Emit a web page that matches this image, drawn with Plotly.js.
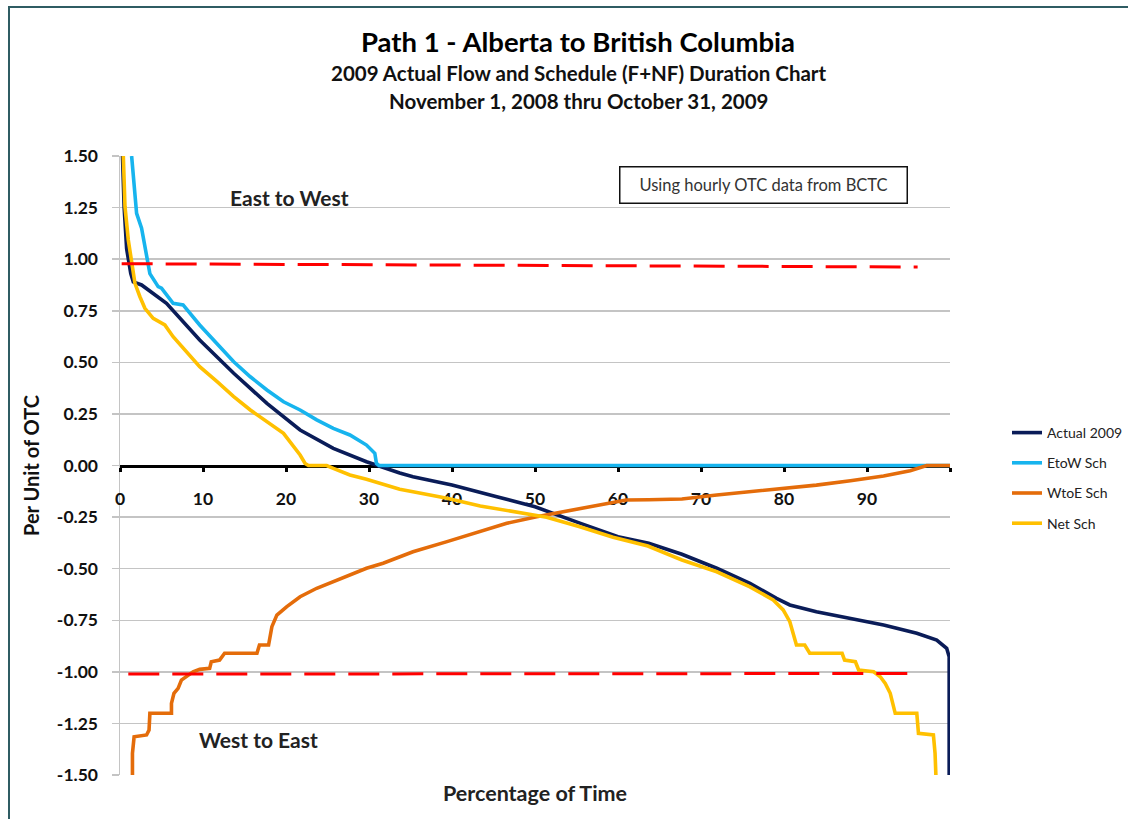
<!DOCTYPE html>
<html>
<head>
<meta charset="utf-8">
<script src="https://cdn.plot.ly/plotly-3.0.1.min.js"></script>
<style>
  html, body { margin: 0; padding: 0; background: #ffffff; }
  #wrap { position: relative; width: 1128px; height: 819px; overflow: hidden; }
  #frame { position: absolute; left: 8px; top: 6px; width: 1200px; height: 900px;
           border-left: 2px solid #2f5c63; border-top: 2px solid #2f5c63; pointer-events: none; z-index: 5; }
  #chart { position: absolute; left: 0; top: 0; width: 1128px; height: 819px; }
</style>
</head>
<body>
<div id="wrap">
  <div id="chart"></div>
  <div id="frame"></div>
</div>
<script>
// ---- Data (percentage of time, per unit of OTC) ----
const actualX = [0.3, 0.5, 0.8, 1.0, 1.3, 1.6, 2.6, 5.6, 9.6, 13.7, 17.7, 21.7, 25.7, 29.7, 31.0,
  33.7, 35.3, 40.0, 45.4, 50.0, 55.4, 60.0, 63.7, 67.7, 71.9, 75.9, 79.1, 80.7, 83.9, 88.0, 92.0,
  96.0, 98.4, 99.6, 99.9, 99.9];
const actualY = [1.5, 1.25, 1.05, 1.0, 0.93, 0.89, 0.875, 0.786, 0.608, 0.447, 0.301, 0.172, 0.083, 0.018, 0.0,
  -0.036, -0.054, -0.095, -0.151, -0.2, -0.279, -0.345, -0.377, -0.43, -0.498, -0.571, -0.644, -0.676, -0.709, -0.741, -0.773,
  -0.813, -0.846, -0.886, -0.927, -1.5];

const etowX = [1.4, 1.8, 2.0, 2.6, 3.0, 3.4, 3.6, 4.6, 5.0, 6.4, 7.6, 9.6, 11.7, 13.7, 15.7, 17.7,
  19.7, 21.7, 23.7, 25.7, 27.7, 29.7, 30.7, 30.9, 31.2, 100];
const etowY = [1.5, 1.335, 1.222, 1.15, 1.06, 0.98, 0.93, 0.867, 0.859, 0.786, 0.778, 0.681, 0.592, 0.503, 0.43, 0.366,
  0.309, 0.269, 0.221, 0.18, 0.148, 0.099, 0.059, 0.01, 0.0, 0.0];

const wtoeX = [1.5, 1.5, 1.7, 3.2, 3.5, 3.6, 6.2, 6.2, 6.5, 7.0, 7.4, 8.0, 8.8, 9.6, 10.8, 11.0, 12.0, 12.6,
  16.5, 16.8, 17.9, 18.3, 18.9, 20.1, 21.7, 23.7, 25.7, 27.7, 29.7, 31.7, 33.7, 35.3, 39.4, 43.4, 46.6,
  50.2, 53.4, 57.4, 61.0, 63.7, 67.7, 71.9, 75.9, 79.9, 83.9, 88.0, 92.0, 95.2, 96.8, 97.2, 100];
const wtoeY = [-1.5, -1.395, -1.315, -1.306, -1.282, -1.201, -1.201, -1.153, -1.104, -1.08, -1.04, -1.024, -1.0, -0.988, -0.983, -0.951, -0.943, -0.91,
  -0.91, -0.87, -0.87, -0.781, -0.725, -0.684, -0.636, -0.595, -0.563, -0.531, -0.498, -0.474, -0.442, -0.418, -0.369, -0.321, -0.28,
  -0.248, -0.224, -0.191, -0.167, -0.166, -0.162, -0.143, -0.127, -0.111, -0.095, -0.074, -0.051, -0.025, -0.006, 0.0, 0.0];

const netX = [0.4, 0.6, 1.0, 1.4, 1.8, 2.4, 3.0, 4.0, 4.8, 5.4, 6.4, 7.6, 9.6, 11.7, 13.7, 15.7, 17.7,
  19.7, 21.7, 22.3, 22.7, 24.9, 25.7, 27.7, 29.7, 31.5, 33.7, 35.3, 39.4, 43.4, 47.4, 51.4, 55.4, 59.4,
  63.6, 67.7, 71.9, 75.9, 78.7, 79.9, 80.7, 81.1, 81.5, 82.5, 83.1, 87.0, 87.3, 88.6, 89.0, 90.8, 91.6,
  92.2, 92.8, 93.4, 96.0, 96.2, 98.0, 98.2, 98.3];
const netY = [1.5, 1.255, 1.093, 0.98, 0.883, 0.818, 0.762, 0.713, 0.692, 0.681, 0.624, 0.568, 0.479, 0.406, 0.334, 0.269, 0.212,
  0.156, 0.051, 0.01, 0.0, 0.0, -0.014, -0.046, -0.067, -0.09, -0.115, -0.127, -0.159, -0.196, -0.224, -0.251, -0.297, -0.348,
  -0.39, -0.458, -0.515, -0.588, -0.652, -0.7, -0.757, -0.813, -0.87, -0.87, -0.91, -0.91, -0.943, -0.951, -0.991, -1.0, -1.024,
  -1.056, -1.104, -1.201, -1.201, -1.298, -1.306, -1.395, -1.5];

const limitEtoWX = [0.2, 50, 96.1];
const limitEtoWY = [0.978, 0.970, 0.962];
const limitWtoEX = [1.0, 50, 96.4];
const limitWtoEY = [-1.011, -1.010, -1.008];

const xTickVals = [0, 10, 20, 30, 40, 50, 60, 70, 80, 90, 100];
const xTickText = ['0', '10', '20', '30', '40', '50', '60', '70', '80', '90', ''];
const yTickVals = [-1.5, -1.25, -1.0, -0.75, -0.5, -0.25, 0, 0.25, 0.5, 0.75, 1.0, 1.25, 1.5];
const yTickText = ['-1.50', '-1.25', '-1.00', '-0.75', '-0.50', '-0.25', '0.00', '0.25', '0.50', '0.75', '1.00', '1.25', '1.50'];

const seriesNames = ['Actual 2009', 'EtoW Sch', 'WtoE Sch', 'Net Sch'];

// ---- Chart ----
const FONT = 'Lato, "Open Sans", "DejaVu Sans", sans-serif';
const LW = 3.6;

const traces = [
  {x: actualX, y: actualY, name: seriesNames[0], mode: 'lines', line: {color: '#0a1c58', width: LW}, legendgroup: 'a'},
  {x: etowX, y: etowY, name: seriesNames[1], mode: 'lines', line: {color: '#17b4ee', width: LW}, legendgroup: 'b'},
  {x: wtoeX, y: wtoeY, name: seriesNames[2], mode: 'lines', line: {color: '#e46c0a', width: LW}, legendgroup: 'c'},
  {x: netX, y: netY, name: seriesNames[3], mode: 'lines', line: {color: '#ffc000', width: LW}, legendgroup: 'd'},
  {x: limitEtoWX, y: limitEtoWY, mode: 'lines', showlegend: false, hoverinfo: 'skip',
   line: {color: '#ff0000', width: 3, dash: '31px,13px'}},
  {x: limitWtoEX, y: limitWtoEY, mode: 'lines', showlegend: false, hoverinfo: 'skip',
   line: {color: '#ff0000', width: 3, dash: '31px,13px'}}
];

const layout = {
  width: 1128, height: 819,
  paper_bgcolor: 'rgba(0,0,0,0)', plot_bgcolor: '#ffffff',
  margin: {l: 120, r: 178, t: 156, b: 44, autoexpand: false},
  font: {family: FONT, color: '#000000'},
  showlegend: true,
  title: {
    text: '<b>Path 1 - Alberta to British Columbia</b>',
    font: {family: FONT, size: 27.5, color: '#000000'},
    x: 0.5124, xanchor: 'center', xref: 'container',
    y: 1 - 42 / 819, yanchor: 'middle', yref: 'container'
  },
  xaxis: {
    range: [0, 100], anchor: 'free', position: 0.5,
    tickvals: xTickVals, ticktext: xTickText,
    showgrid: false, zeroline: false,
    showline: true, linecolor: '#000000', linewidth: 3,
    ticks: 'outside', ticklen: 4, tickwidth: 3, tickcolor: '#000000',
    ticklabelstandoff: 12,
    tickfont: {family: FONT, size: 17.5, color: '#111111', weight: 'bold'},
    layer: 'below traces', fixedrange: true
  },
  yaxis: {
    range: [-1.5, 1.5],
    tickvals: yTickVals, ticktext: yTickText,
    showgrid: true, gridcolor: '#c4c4c4', gridwidth: 1.5,
    zeroline: false,
    showline: true, linecolor: '#c4c4c4', linewidth: 1.5,
    ticks: 'outside', ticklen: 7, tickwidth: 1.5, tickcolor: '#c4c4c4',
    ticklabelstandoff: 10,
    tickfont: {family: FONT, size: 17.5, color: '#111111', weight: 'bold'},
    title: {text: '<b>Per Unit of OTC</b>', font: {family: FONT, size: 20, color: '#111111'}, standoff: 12},
    layer: 'below traces', fixedrange: true
  },
  legend: {
    x: (1007 - 120) / 830, xanchor: 'left',
    y: (775 - 417) / 619, yanchor: 'top',
    font: {family: FONT, size: 14, color: '#222222'},
    tracegroupgap: 9, bgcolor: 'rgba(0,0,0,0)', borderwidth: 0
  },
  annotations: [
    {text: '<b>2009 Actual Flow and Schedule (F+NF) Duration Chart</b>', xref: 'paper', yref: 'paper',
     x: (579 - 120) / 830, y: (775 - 73) / 619, xanchor: 'center', yanchor: 'middle', showarrow: false,
     font: {family: FONT, size: 20.5, color: '#111111'}},
    {text: '<b>November 1, 2008 thru October 31, 2009</b>', xref: 'paper', yref: 'paper',
     x: (578 - 120) / 830, y: (775 - 101) / 619, xanchor: 'center', yanchor: 'middle', showarrow: false,
     font: {family: FONT, size: 20.5, color: '#111111'}},
    {text: '<b>East to West</b>', xref: 'x', yref: 'y', x: 20.4, y: 1.297,
     xanchor: 'center', yanchor: 'middle', showarrow: false,
     font: {family: FONT, size: 21, color: '#222222'}},
    {text: '<b>West to East</b>', xref: 'x', yref: 'y', x: 16.7, y: -1.33,
     xanchor: 'center', yanchor: 'middle', showarrow: false,
     font: {family: FONT, size: 21, color: '#222222'}},
    {text: 'Using hourly OTC data from BCTC', xref: 'x', yref: 'y', x: 77.5, y: 1.36,
     xanchor: 'center', yanchor: 'middle', showarrow: false,
     width: 282, height: 31, borderpad: 2, bordercolor: '#111111', borderwidth: 1.5, bgcolor: '#ffffff',
     font: {family: FONT, size: 16.5, color: '#333333'}},
    {text: '<b>Percentage of Time</b>', xref: 'paper', yref: 'paper', x: (535 - 120) / 830, y: (775 - 793) / 619,
     xanchor: 'center', yanchor: 'middle', showarrow: false,
     font: {family: FONT, size: 21.5, color: '#222222'}}
  ]
};

Plotly.newPlot('chart', traces, layout, {displayModeBar: false, staticPlot: true});
</script>
</body>
</html>
